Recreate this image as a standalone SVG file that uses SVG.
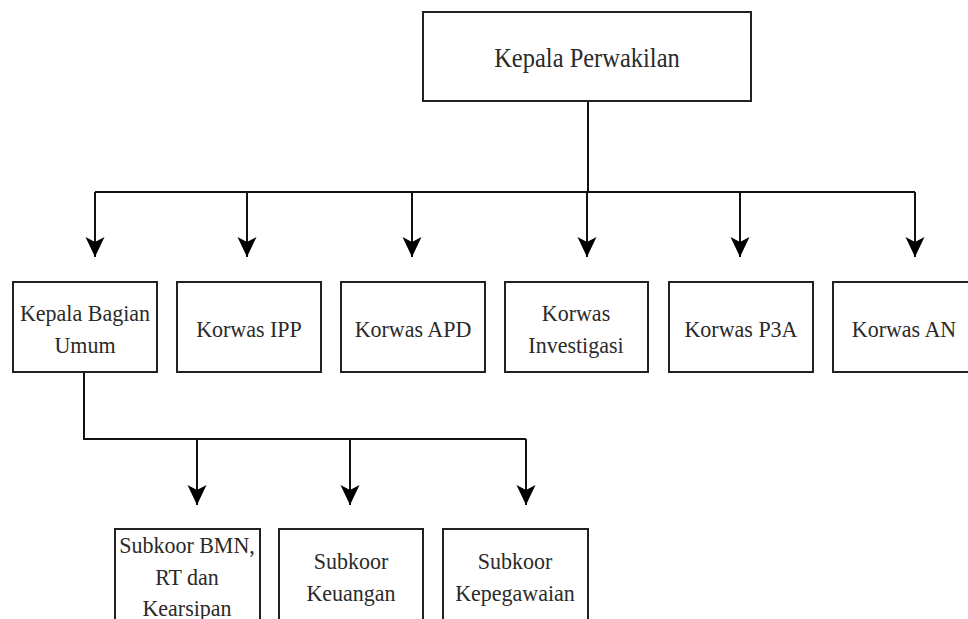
<svg xmlns="http://www.w3.org/2000/svg" width="968" height="619" viewBox="0 0 968 619">
<defs>
<style>
.box{fill:#fff;stroke:#222;stroke-width:2}
.t{font-family:'Liberation Serif','Times New Roman',serif;font-size:22px;fill:#2a2a2a;text-anchor:middle}
.big{font-size:24.5px}
.c{fill:none;stroke:#111;stroke-width:2}
</style>
<marker id="ah" markerUnits="userSpaceOnUse" markerWidth="22" markerHeight="22" viewBox="0 0 22 20" refX="20" refY="10" orient="auto">
<path d="M0,0.5 L20,10 L0,19.5 L5,10 Z" fill="#000"/>
</marker>
</defs>
<rect width="968" height="619" fill="#fff"/>
<g id="connectors">
<path class="c" d="M588,101 V192"/>
<path class="c" d="M95,192 H915"/>
<path class="c" d="M95,192 V257" marker-end="url(#ah)"/>
<path class="c" d="M247,192 V257" marker-end="url(#ah)"/>
<path class="c" d="M412,192 V257" marker-end="url(#ah)"/>
<path class="c" d="M587,192 V257" marker-end="url(#ah)"/>
<path class="c" d="M740,192 V257" marker-end="url(#ah)"/>
<path class="c" d="M915,192 V257" marker-end="url(#ah)"/>
<path class="c" d="M84,372 V439 H526"/>
<path class="c" d="M197,439 V505" marker-end="url(#ah)"/>
<path class="c" d="M350,439 V505" marker-end="url(#ah)"/>
<path class="c" d="M526,439 V505" marker-end="url(#ah)"/>
</g>
<g id="kepala-perwakilan">
<rect class="box" x="423" y="12" width="328" height="89"/>
<text class="t big" x="587" y="67" transform="matrix(1,0,0,1.09,0,-6.03)">Kepala Perwakilan</text>
</g>
<g id="kepala-bagian-umum">
<rect class="box" x="13" y="282" width="144" height="90"/>
<text class="t" x="85" y="321" transform="matrix(1,0,0,1.09,0,-28.89)">Kepala Bagian</text>
<text class="t" x="85" y="353" transform="matrix(1,0,0,1.09,0,-31.77)">Umum</text>
</g>
<g id="korwas-ipp">
<rect class="box" x="177" y="282" width="144" height="90"/>
<text class="t" x="249" y="337" transform="matrix(1,0,0,1.09,0,-30.33)">Korwas IPP</text>
</g>
<g id="korwas-apd">
<rect class="box" x="341" y="282" width="144" height="90"/>
<text class="t" x="413" y="337" transform="matrix(1,0,0,1.09,0,-30.33)">Korwas APD</text>
</g>
<g id="korwas-investigasi">
<rect class="box" x="505" y="282" width="143" height="90"/>
<text class="t" x="576" y="321" transform="matrix(1,0,0,1.09,0,-28.89)">Korwas</text>
<text class="t" x="576" y="353" transform="matrix(1,0,0,1.09,0,-31.77)">Investigasi</text>
</g>
<g id="korwas-p3a">
<rect class="box" x="669" y="282" width="144" height="90"/>
<text class="t" x="741" y="337" transform="matrix(1,0,0,1.09,0,-30.33)">Korwas P3A</text>
</g>
<g id="korwas-an">
<rect class="box" x="833" y="282" width="144" height="90"/>
<text class="t" x="904" y="337" transform="matrix(1,0,0,1.09,0,-30.33)">Korwas AN</text>
</g>
<g id="subkoor-bmn">
<rect class="box" x="115" y="529" width="145" height="94"/>
<text class="t" x="187" y="553" transform="matrix(1,0,0,1.09,0,-49.77)">Subkoor BMN,</text>
<text class="t" x="187" y="585" transform="matrix(1,0,0,1.09,0,-52.65)">RT dan</text>
<text class="t" x="187" y="616" transform="matrix(1,0,0,1.09,0,-55.44)">Kearsipan</text>
</g>
<g id="subkoor-keuangan">
<rect class="box" x="279" y="529" width="144" height="94"/>
<text class="t" x="351" y="569" transform="matrix(1,0,0,1.09,0,-51.21)">Subkoor</text>
<text class="t" x="351" y="601" transform="matrix(1,0,0,1.09,0,-54.09)">Keuangan</text>
</g>
<g id="subkoor-kepegawaian">
<rect class="box" x="443" y="529" width="145" height="94"/>
<text class="t" x="515" y="569" transform="matrix(1,0,0,1.09,0,-51.21)">Subkoor</text>
<text class="t" x="515" y="601" transform="matrix(1,0,0,1.09,0,-54.09)">Kepegawaian</text>
</g>
</svg>
